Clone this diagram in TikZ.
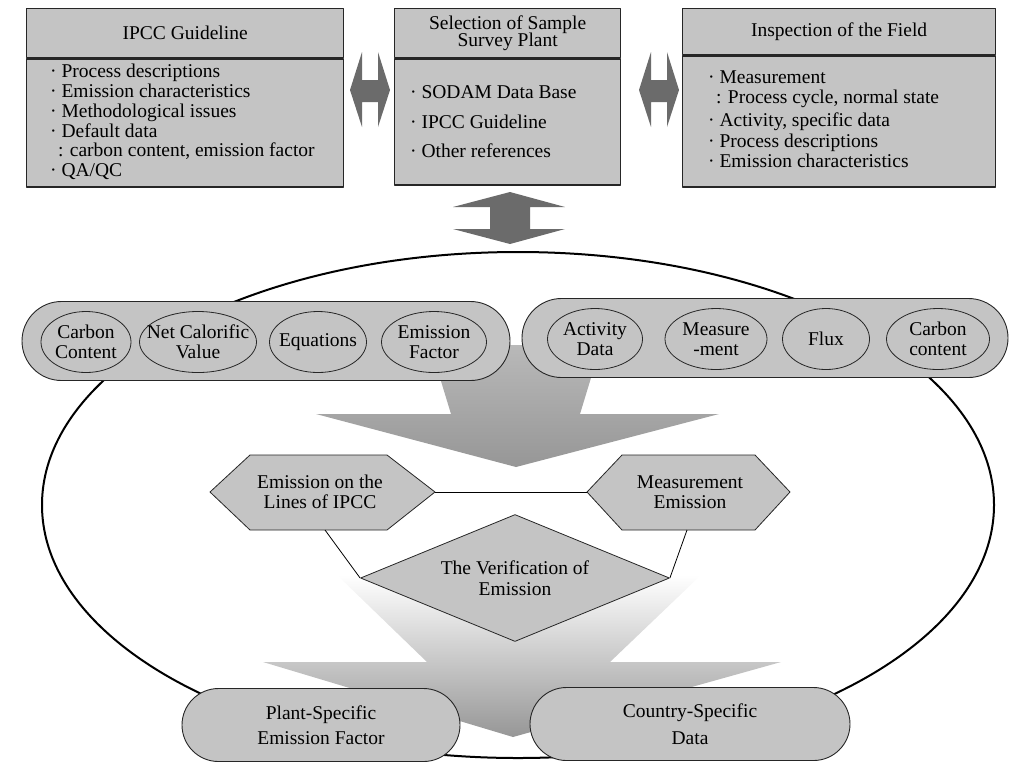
\documentclass[tikz,border=0pt]{standalone}
\usepackage{fontspec}
\setmainfont{Liberation Serif}
\usetikzlibrary{shapes.geometric,shapes.misc}
\definecolor{boxgray}{gray}{0.77}
\definecolor{arrgray}{gray}{0.42}

\begin{document}
\begin{tikzpicture}[x=1pt, y=-1pt, line join=round, font=\fontsize{19.5}{20.5}\selectfont]
	\tikzset{
		box/.style={draw=black!85, line width=1.3pt, fill=boxgray, anchor=north west, inner sep=0pt},
		hdr/.style={box, align=center},
		lst/.style={anchor=west, align=left, inner sep=0pt},
		band/.style={rounded rectangle, draw=black!85, line width=0.9pt, fill=boxgray, inner sep=0pt, minimum height=79},
		oval/.style={ellipse, draw=black!85, line width=0.8pt, fill=boxgray, inner xsep=-15pt, inner ysep=0pt, minimum height=61, align=center},
		hexa/.style={draw=black!85, line width=0.8pt, fill=boxgray},
		pill/.style={rounded rectangle, draw=black!85, line width=0.9pt, fill=boxgray, inner sep=0pt, minimum height=73, align=center},
		blk/.style={fill=arrgray}
	}
	\useasboundingbox (0,0) rectangle (1011,764);
	% outer ellipse
	\draw[line width=2pt] (518,505) ellipse [x radius=476, y radius=253];
	% top boxes
	\node[hdr, minimum width=317, minimum height=49] (ipcch) at (26,8) {IPCC Guideline};
	\node[box, minimum width=317, minimum height=128] (ipccb) at (ipcch.south west) {};
	\node[lst, font=\fontsize{19.5}{20}\selectfont] (ipcct) at ([xshift=24pt, yshift=1pt]ipccb.west)
		{· Process descriptions\\ · Emission characteristics\\ · Methodological issues\\ · Default data\\[-1pt]
		\hspace*{0.4em}: carbon content, emission factor\\ · QA/QC};
	\node[hdr, minimum width=226, minimum height=49] (selh) at (394,8) {Selection of Sample\\[-3pt]Survey Plant};
	\node[box, minimum width=226, minimum height=126] (selb) at (selh.south west) {};
	\node[lst] (selt) at ([xshift=16pt]selb.west)
		{· SODAM Data Base\\[9pt] · IPCC Guideline\\[9pt] · Other references};
	\node[hdr, minimum width=313, minimum height=46] (insh) at (682,8) {Inspection of the Field};
	\node[box, minimum width=313, minimum height=131] (insb) at (insh.south west) {};
	\node[lst] (inst) at ([xshift=26pt, yshift=2pt]insb.west)
		{· Measurement\\[-1pt] \hspace*{0.4em}: Process cycle, normal state\\[3pt] · Activity, specific data\\
		· Process descriptions\\ · Emission characteristics};
	% block arrows
	\coordinate (lr1) at (370,90);
	\coordinate (lr2) at (659,90);
	\coordinate (ud) at (510,218);
	\foreach \c in {lr1,lr2}
		\fill[blk, shift={(\c)}] (-20,0) -- (-8,-38) -- (-8,-10) -- (8,-10) -- (8,-38) -- (20,0)
			-- (8,37) -- (8,12) -- (-8,12) -- (-8,37) -- cycle;
	\fill[blk, shift={(ud)}] (0,-26) -- (55,-11) -- (20,-11) -- (20,11) -- (55,11) -- (0,26)
		-- (-57,11) -- (-20,11) -- (-20,-11) -- (-57,-11) -- cycle;
	% big down arrows
	\shade[top color=gray!55, bottom color=gray!82] (430,345) -- (601,345) -- (580,414) -- (719,414)
		-- (516,467) -- (316,414) -- (451,414) -- cycle;
	\shade[top color=white, bottom color=gray!82] (337,575) -- (701,575) -- (610,662) -- (781,662)
		-- (513,737) -- (263,662) -- (427,662) -- cycle;
	% bands
	\node[band, minimum width=488] (lband) at (266,341) {};
	\node[band, minimum width=486] (rband) at (765,338) {};
	\node[oval, minimum width=90] (cc1) at (86,342) {Carbon\\Content};
	\node[oval, minimum width=117] (ncv) at (198,342) {Net Calorific\\Value};
	\node[oval, minimum width=97] (eqn) at (318,342) {Equations};
	\node[oval, minimum width=105] (ef) at (434,342) {Emission\\Factor};
	\node[oval, minimum width=95] (act) at (595,339) {Activity\\Data};
	\node[oval, minimum width=102] (meas) at (716,339) {Measure\\-ment};
	\node[oval, minimum width=87] (flux) at (826,339) {Flux};
	\node[oval, minimum width=103] (cc2) at (938,339) {Carbon\\content};
	% hexagons and diamond
	\draw[hexa] (210,492) -- (250,455) -- (387,455) -- (435,492) -- (387,530) -- (250,530) -- cycle;
	\draw[hexa] (587,492) -- (622,455) -- (755,455) -- (790,492) -- (755,530) -- (622,530) -- cycle;
	\node[align=center] (ipccem) at (320,492) {Emission on the\\Lines of IPCC};
	\node[align=center] (measem) at (690,492) {Measurement\\Emission};
	\coordinate (lhE) at (435,492);
	\coordinate (rhW) at (587,492);
	\coordinate (lhB) at (325,530);
	\coordinate (rhB) at (687,530);
	\node[diamond, aspect=2.4, draw=black!85, line width=0.8pt, fill=boxgray, inner sep=0pt,
		minimum width=309, minimum height=127, align=center] (verif) at (515,578) {The Verification of\\Emission};
	\draw[line width=0.8pt] (lhE) -- (rhW);
	\draw[line width=0.8pt] (lhB) -- (verif.west);
	\draw[line width=0.8pt] (rhB) -- (verif.east);
	% results
	\node[pill, minimum width=278] (psef) at (321,725) {Plant-Specific\\[4pt]Emission Factor};
	\node[pill, minimum width=320] (csd) at (690,724) {Country-Specific\\[6pt]Data};
\end{tikzpicture}
\end{document}
